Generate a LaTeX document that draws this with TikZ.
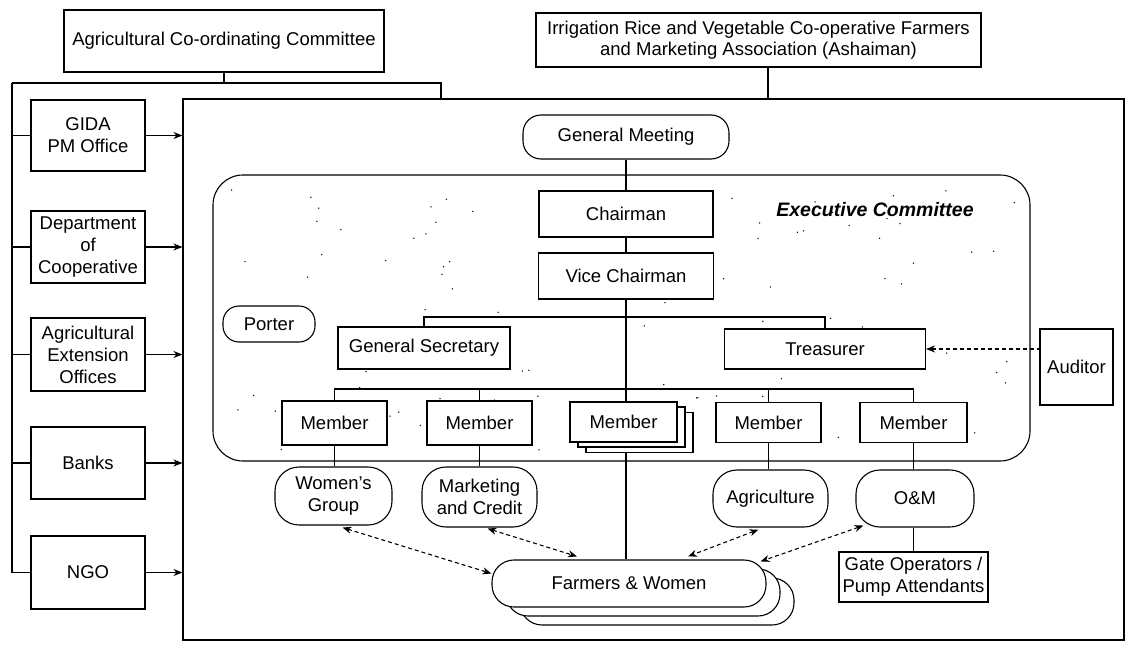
\documentclass[tikz,border=0pt]{standalone}
\usepackage{fontspec}
\setmainfont{Liberation Sans}
\usetikzlibrary{arrows.meta,calc}
\begin{document}
\begin{tikzpicture}[x=1pt,y=-1pt,
  every node/.style={font=\fontsize{18.5}{21}\selectfont, inner sep=0pt, align=center},
  sbox/.style={draw, line width=1.1pt, fill=white},
  rbox/.style={draw, line width=1.1pt, fill=white, rounded corners=#1},
  conn/.style={line width=1.1pt},
  arr/.style={line width=1.1pt, -{Stealth[length=9pt,width=7pt]}},
  darr/.style={line width=1.1pt, dash pattern=on 4pt off 3pt, {Stealth[length=9pt,width=7pt]}-{Stealth[length=9pt,width=7pt]}},
]
\useasboundingbox (0,0) rectangle (1127,645);

% top boxes
\node[sbox, minimum width=320pt, minimum height=62pt] (acc) at (224,41) {Agricultural Co-ordinating Committee};
\node[sbox, minimum width=445pt, minimum height=54pt] (irr) at (758.5,40) {Irrigation Rice and Vegetable Co-operative Farmers\\and Marketing Association (Ashaiman)};

% main box
\node[draw, line width=1.1pt, minimum width=941pt, minimum height=541pt] (main) at (653.5,369.5) {};

% left boxes
\begin{scope}[every node/.append style={sbox, minimum width=114pt, font=\fontsize{18.5}{22}\selectfont}]
\node[minimum height=71pt] (gida) at (88,135.5) {GIDA\\PM Office};
\node[minimum height=72pt] (dept) at (88,247) {Department\\of\\Cooperative};
\node[minimum height=73pt] (ext) at (88,354.5) {Agricultural\\Extension\\Offices};
\node[minimum height=72pt] (banks) at (88,463) {Banks};
\node[minimum height=73pt] (ngo) at (88,572.5) {NGO};
\end{scope}

\coordinate (bl) at (12,83);
\coordinate (br) at (441,83);
\coordinate (ic) at (768,83);
\draw[conn] (acc.south) -- (acc.south |- bl);
\draw[conn] (bl) -- (br) -- (br |- main.north);
\draw[conn] (bl) -- (bl |- ngo.west) -- (ngo.west);
\foreach \n in {gida,dept,ext,banks} \draw[conn] (bl |- \n.west) -- (\n.west);
\foreach \n in {gida,dept,ext,banks,ngo} \draw[arr] (\n.east) -- (\n.east -| main.west);
\draw[conn] (irr.south -| ic) -- (ic |- main.north);

% general meeting
\node[rbox=18pt, minimum width=206pt, minimum height=44pt] (gm) at (626,137) {General Meeting};

% executive committee
\node[rbox=30pt, minimum width=817pt, minimum height=286pt] (exec) at (621.5,318) {};
\pgfmathsetseed{17}
\foreach \i in {1,...,110}{
  \pgfmathsetmacro\rx{225+790*rnd}
  \pgfmathsetmacro\ry{185+265*rnd}
  \fill (\rx,\ry) circle (0.75pt);
}
\node[font=\fontsize{19.5}{22}\selectfont\bfseries\itshape] (ectitle) at (875,210) {Executive Committee};

\node[sbox, minimum width=174pt, minimum height=46pt] (ch) at (626,214) {Chairman};
\node[sbox, minimum width=175pt, minimum height=46pt] (vc) at (626,276) {Vice Chairman};
\draw[conn] (gm.south) -- (ch.north);
\draw[conn] (ch.south) -- (vc.north);

\node[rbox=16pt, minimum width=92pt, minimum height=36pt] (porter) at (269,324) {Porter};
\node[sbox, minimum width=172pt, minimum height=42pt] (gs) at (424,348) {General Secretary};
\node[sbox, minimum width=201pt, minimum height=40pt] (tr) at (825,349) {Treasurer};
\node[sbox, minimum width=73pt, minimum height=76pt] (au) at (1076.5,367) {Auditor};
\coordinate (b2) at (0,317);
\draw[conn] (gs.north) |- (tr.north |- b2) -- (tr.north);
\draw[darr, {Stealth[length=9pt,width=7pt]}-] (tr.east) -- (tr.east -| au.west);

% members
\coordinate (b3) at (0,389);
\node[sbox, minimum width=105pt, minimum height=44pt] (m1) at (334.5,423) {Member};
\node[sbox, minimum width=105pt, minimum height=44pt] (m2) at (479.5,423) {Member};
\node[sbox, minimum width=107pt, minimum height=40pt] (m3b) at (639.5,432.5) {};
\node[sbox, minimum width=107pt, minimum height=40pt] (m3a) at (631.5,427) {};
\node[sbox, line width=2pt, minimum width=107pt, minimum height=40pt] (m3) at (623.5,421.5) {Member};
\node[sbox, minimum width=105pt, minimum height=40pt] (m4) at (768.5,422.5) {Member};
\node[sbox, minimum width=107pt, minimum height=40pt] (m5) at (913.5,422.5) {Member};
\draw[conn] (m1.north) |- (m5.north |- b3) -- (m5.north);
\draw[conn] (m2.north) -- (m2.north |- b3);
\draw[conn] (m4.north) -- (m4.north |- b3);
\draw[conn] (vc.south) -- (vc.south |- m3.north);

% groups
\node[rbox=24pt, minimum width=117pt, minimum height=58pt, font=\fontsize{18.5}{22}\selectfont] (wg) at (333.5,496) {Women's\\Group};
\node[rbox=24pt, minimum width=115pt, minimum height=60pt, font=\fontsize{18.5}{22}\selectfont] (mc) at (479.5,497) {Marketing\\and Credit};
\node[rbox=24pt, minimum width=115pt, minimum height=57pt] (ag) at (770.5,498.5) {Agriculture};
\node[rbox=24pt, minimum width=118pt, minimum height=57pt] (om) at (915,498.5) {O\&M};
\node[sbox, minimum width=149pt, minimum height=50pt, font=\fontsize{18.5}{22}\selectfont] (gate) at (913.5,577) {Gate Operators /\\Pump Attendants};
\draw[conn] (m1.south) -- (m1.south |- wg.north);
\draw[conn] (m2.south) -- (m2.south |- mc.north);
\draw[conn] (m4.south) -- (m4.south |- ag.north);
\draw[conn] (m5.south) -- (m5.south |- om.north);
\draw[conn] (om.south -| gate.north) -- (gate.north);

% farmers & women
\node[rbox=22pt, minimum width=274pt, minimum height=47pt] (fwc) at (657,601.5) {};
\node[rbox=22pt, minimum width=274pt, minimum height=47pt] (fwb) at (643,592.5) {};
\node[rbox=22pt, minimum width=274pt, minimum height=47pt] (fw) at (629,583.5) {Farmers \& Women};
\draw[conn] (fw.north -| vc.south) -- (vc.south |- m3b.south);

% dashed links
\draw[darr] ($(wg.south)+(9,2)$) -- ($(fw.west)+(0,-10)$);
\draw[darr] ($(mc.south)+(8,1)$) -- ($(fw.north)+(-52,-3)$);
\draw[darr] ($(ag.south)+(-12,2)$) -- ($(fw.north)+(59,-3)$);
\draw[darr] ($(om.south west)+(8,-2)$) -- ($(fw.north east)+(-6,2)$);
\end{tikzpicture}
\end{document}
